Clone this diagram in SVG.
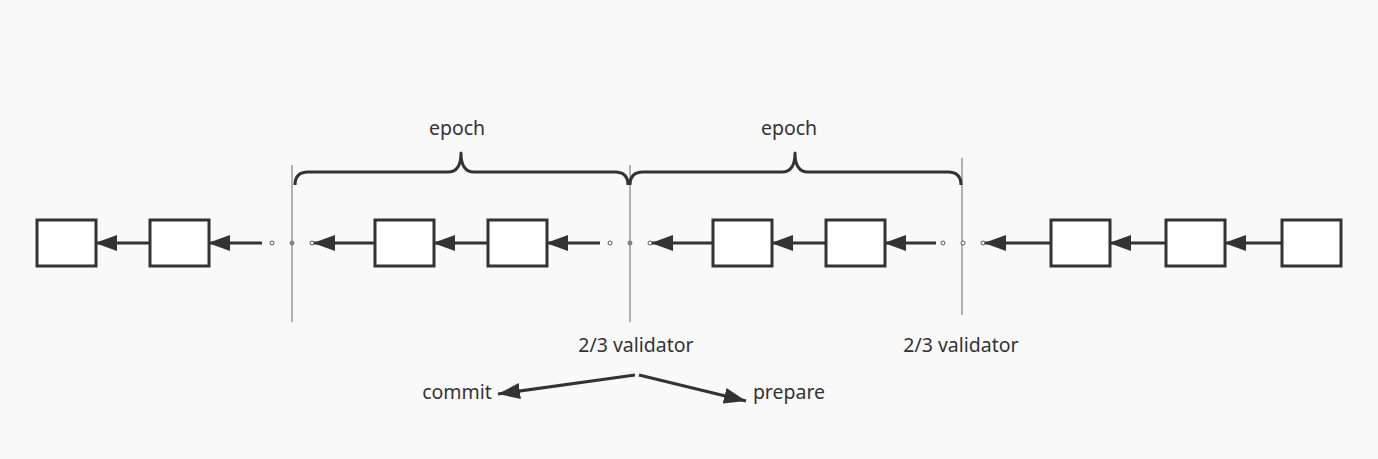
<svg xmlns="http://www.w3.org/2000/svg" width="1378" height="459" viewBox="0 0 1378 459">
<defs>
<style>
.box{fill:#fff;stroke:#333;stroke-width:3}
.edge{stroke:#333;stroke-width:3;fill:none}
.sep{stroke:#999;stroke-width:1.5}
.dot{fill:#fff;stroke:#555;stroke-width:1}
.gdot{fill:#888;stroke:#777;stroke-width:1}
.brace{fill:none;stroke:#333;stroke-width:3;stroke-linejoin:round}
text{font-family:"Noto Sans","Open Sans",sans-serif;font-size:19.5px;fill:#333;text-anchor:middle}
</style>
<marker id="ah" markerUnits="userSpaceOnUse" markerWidth="24" markerHeight="18" refX="22" refY="9" orient="auto">
<path d="M0,1 L22,9 L0,17 Z" fill="#333"/>
</marker>
</defs>
<rect width="1378" height="459" fill="#f9f9f9"/>
<g id="separators">
<line class="sep" x1="292" y1="165" x2="292" y2="322"/>
<line class="sep" x1="630" y1="165" x2="630" y2="322"/>
<line class="sep" x1="962" y1="158" x2="962" y2="315"/>
</g>
<g id="braces">
<path class="brace" d="M295,185 Q295,172 308,172 L448,172 Q461,172 461,153 Q461,172 474,172 L615,172 Q628,172 628,185"/>
<path class="brace" d="M630,185 Q630,172 643,172 L782,172 Q795,172 795,153 Q795,172 808,172 L948,172 Q961,172 961,185"/>
</g>
<g id="connectors">
<line class="edge" x1="150" y1="243" x2="95" y2="243" marker-end="url(#ah)"/>
<line class="edge" x1="262" y1="243" x2="208" y2="243" marker-end="url(#ah)"/>
<line class="edge" x1="375" y1="243" x2="313" y2="243" marker-end="url(#ah)"/>
<line class="edge" x1="488" y1="243" x2="433" y2="243" marker-end="url(#ah)"/>
<line class="edge" x1="600" y1="243" x2="546" y2="243" marker-end="url(#ah)"/>
<line class="edge" x1="713" y1="243" x2="651" y2="243" marker-end="url(#ah)"/>
<line class="edge" x1="826" y1="243" x2="771" y2="243" marker-end="url(#ah)"/>
<line class="edge" x1="936" y1="243" x2="884" y2="243" marker-end="url(#ah)"/>
<line class="edge" x1="1051" y1="243" x2="984" y2="243" marker-end="url(#ah)"/>
<line class="edge" x1="1166" y1="243" x2="1109" y2="243" marker-end="url(#ah)"/>
<line class="edge" x1="1282" y1="243" x2="1224" y2="243" marker-end="url(#ah)"/>
<line class="edge" x1="635" y1="375" x2="498" y2="394" marker-end="url(#ah)"/>
<line class="edge" x1="639" y1="375" x2="746" y2="401" marker-end="url(#ah)"/>
</g>
<g id="dots">
<circle class="dot" cx="272" cy="243" r="2"/>
<circle class="gdot" cx="292" cy="243" r="2"/>
<circle class="dot" cx="312" cy="243" r="2"/>
<circle class="dot" cx="610" cy="243" r="2"/>
<circle class="gdot" cx="630" cy="243" r="2"/>
<circle class="dot" cx="650" cy="243" r="2"/>
<circle class="dot" cx="943" cy="243" r="2"/>
<circle class="dot" cx="963" cy="243" r="2"/>
<circle class="dot" cx="983" cy="243" r="2"/>
</g>
<g id="b1"><rect class="box" x="37" y="220" width="59" height="46"/></g>
<g id="b2"><rect class="box" x="150" y="220" width="59" height="46"/></g>
<g id="b3"><rect class="box" x="375" y="220" width="59" height="46"/></g>
<g id="b4"><rect class="box" x="488" y="220" width="59" height="46"/></g>
<g id="b5"><rect class="box" x="713" y="220" width="59" height="46"/></g>
<g id="b6"><rect class="box" x="826" y="220" width="59" height="46"/></g>
<g id="b7"><rect class="box" x="1051" y="220" width="59" height="46"/></g>
<g id="b8"><rect class="box" x="1166" y="220" width="59" height="46"/></g>
<g id="b9"><rect class="box" x="1282" y="220" width="59" height="46"/></g>
<g id="labels">
<text x="457" y="135">epoch</text>
<text x="789" y="135">epoch</text>
<text x="636" y="352">2/3 validator</text>
<text x="961" y="352">2/3 validator</text>
<text x="457" y="399">commit</text>
<text x="789" y="399">prepare</text>
</g>
</svg>
